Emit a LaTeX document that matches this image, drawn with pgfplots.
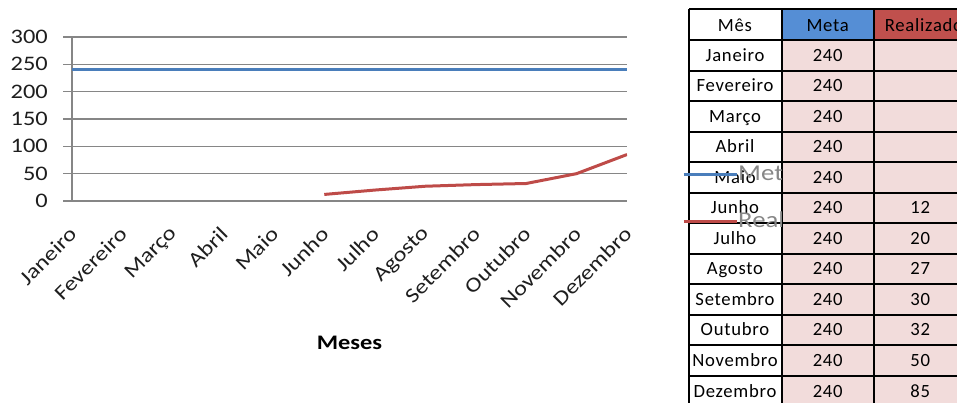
\documentclass[border=0pt]{standalone}
\usepackage{pgfplots}
\pgfplotsset{compat=1.18}
\usepackage{pgfplotstable}
\usepackage{fontspec}
\setmainfont{Carlito}
\newfontfamily\chartfont[FakeStretch=1.18]{Carlito}
\newfontfamily\tablefont[LetterSpace=4]{Carlito}
\definecolor{gridgray}{RGB}{134,134,134}
\definecolor{metablue}{RGB}{74,126,187}
\definecolor{realred}{RGB}{190,75,72}
\definecolor{headblue}{RGB}{85,142,213}
\definecolor{headred}{RGB}{192,80,77}
\definecolor{cellpink}{RGB}{242,220,219}
\definecolor{leggray}{RGB}{135,135,135}
\definecolor{ticktext}{RGB}{30,30,30}

\pgfplotstableread{
x mes meta real
0 Janeiro 240 nan
1 Fevereiro 240 nan
2 Março 240 nan
3 Abril 240 nan
4 Maio 240 nan
5 Junho 240 12
6 Julho 240 20
7 Agosto 240 27
8 Setembro 240 30
9 Outubro 240 32
10 Novembro 240 50
11 Dezembro 240 85
}\datatable

\begin{document}
\begin{tikzpicture}
\useasboundingbox (0pt,0pt) rectangle (717.75pt,-302.25pt);
% ---------- table (pixel coordinates, y downwards)
\begin{scope}[x=0.75pt,y=-0.75pt]
  \fill[headblue] (781.5,9) rectangle (874,40);
  \fill[headred] (874,9) rectangle (966.5,40);
  \fill[cellpink] (781.5,40) rectangle (966.5,406.2);
  \foreach \xx in {689,781.5,874,966.5}
    \draw[line width=1.5pt] (\xx,9) -- (\xx,406.2);
  \draw[line width=1.5pt] (689,9) -- (966.5,9);
  \foreach \i in {0,...,12}
    \draw[line width=1.5pt] (689,40+\i*30.52) -- (966.5,40+\i*30.52);
  \begin{scope}[every node/.style={font=\tablefont\fontsize{14}{16}\selectfont, inner sep=0pt, anchor=base}]
    \node at (735,32) {Mês};
    \node at (827.7,32) {Meta};
    \node at (924,32) {Realizado};
    \foreach \m/\mt/\r [count=\i from 0] in {Janeiro/240/{},Fevereiro/240/{},Março/240/{},Abril/240/{},Maio/240/{},Junho/240/12,Julho/240/20,Agosto/240/27,Setembro/240/30,Outubro/240/32,Novembro/240/50,Dezembro/240/85}{
      \node at (735,61.3+\i*30.52) {\m};
      \node at (827.7,61.3+\i*30.52) {\mt};
      \node at (920.2,61.3+\i*30.52) {\r};
    }
  \end{scope}
\end{scope}
% ---------- chart
\begin{scope}
\clip (-10pt,10pt) rectangle (585.75pt,-320pt);
\begin{axis}[
  at={(54pt,-150.75pt)}, anchor=south west,
  scale only axis, width=416.25pt, height=123pt,
  xmin=0, xmax=11, ymin=0, ymax=300,
  axis lines=left,
  axis line style={-, draw=gridgray, line width=1.1pt},
  ytick={0,50,...,300},
  ymajorgrids,
  grid style={draw=gridgray, line width=1.1pt},
  tick align=outside, major tick length=6.75pt,
  ytick style={draw=gridgray, line width=1.1pt},
  xtick={0,...,11},
  xticklabels from table={\datatable}{mes},
  xtick style={draw=none},
  /pgf/number format/assume math mode=true,
  yticklabel style={font=\chartfont\fontsize{15.5}{18}\selectfont, text=ticktext, anchor=east, inner sep=0pt, xshift=-11.25pt},
  xticklabel style={font=\chartfont\fontsize{15.5}{18}\selectfont, text=ticktext, inner sep=0pt, xshift=0.75pt, yshift=-15.5pt, rotate=45, anchor=east},
  xlabel={Meses},
  xlabel style={font=\chartfont\bfseries\fontsize{15.5}{18}\selectfont, at={(axis description cs:0.5,0)}, anchor=center, yshift=-106.5pt},
  legend image code/.code={\draw[#1] (0pt,0pt) -- (39.75pt,0pt);},
  legend cell align=left,
  legend style={draw=none, fill=none, at={(1.099,0.0213)}, anchor=west, inner sep=0pt,
    font=\chartfont\fontsize{17}{20}\selectfont, text=leggray, row sep=22.25pt,
    nodes={inner sep=0pt, text height=11pt, text depth=2pt},
    /tikz/every odd column/.append style={column sep=0pt}},
]
\addplot[metablue, line width=2.25pt] table[x=x, y=meta] {\datatable};
\addlegendentry{Meta}
\addplot[realred, line width=2.25pt] table[x=x, y=real] {\datatable};
\addlegendentry{Realizado}
\end{axis}
\end{scope}
\end{tikzpicture}
\end{document}
